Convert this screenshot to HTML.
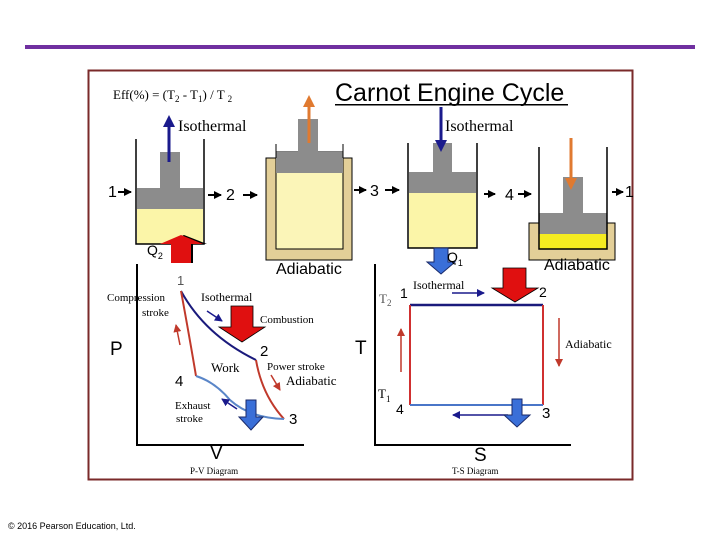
<!DOCTYPE html>
<html><head><meta charset="utf-8"><style>
html,body{margin:0;padding:0;background:#fff;}
svg{display:block;}
.ser{font-family:"Liberation Serif",serif;}
.san{font-family:"Liberation Sans",sans-serif;}
</style></head><body>
<svg width="720" height="540" viewBox="0 0 720 540" xmlns="http://www.w3.org/2000/svg">
<defs>
<marker id="ab" markerUnits="userSpaceOnUse" markerWidth="8" markerHeight="8" refX="7" refY="4" orient="auto"><path d="M0,0 L8,4 L0,8z" fill="#1a1a8c"/></marker>
<marker id="ar" markerUnits="userSpaceOnUse" markerWidth="8" markerHeight="8" refX="7" refY="4" orient="auto"><path d="M0,0 L8,4 L0,8z" fill="#c0392b"/></marker>
<marker id="ak" markerUnits="userSpaceOnUse" markerWidth="8" markerHeight="8" refX="7" refY="4" orient="auto"><path d="M0,0 L8,4 L0,8z" fill="#000"/></marker>
</defs>
<rect x="25" y="45" width="670" height="4" fill="#7030a0"/>
<rect x="88.5" y="70.5" width="544" height="409" fill="#fff" stroke="#7a2a2a" stroke-width="2"/>

<text x="113" y="99" class="ser" font-size="13">Eff(%) = (T<tspan font-size="9" dy="3">2</tspan><tspan dy="-3"> - T</tspan><tspan font-size="9" dy="3">1</tspan><tspan dy="-3">) / T </tspan><tspan font-size="9" dy="3">2</tspan></text>
<text x="335" y="101" class="san" font-size="25">Carnot Engine Cycle</text>
<rect x="335" y="104" width="233" height="1.5" fill="#000"/>

<!-- cylinder 1 -->
<rect x="137" y="209" width="66" height="35" fill="#fbf5a8"/>
<rect x="137" y="188" width="66" height="21" fill="#8c8c8c"/>
<rect x="160" y="152" width="20" height="36" fill="#8c8c8c"/>
<path d="M136,139 V244 H204 V139" fill="none" stroke="#000" stroke-width="1.5"/>
<line x1="169" y1="162" x2="169" y2="125" stroke="#1a1a8c" stroke-width="3"/>
<path d="M163,127 L169,115 L175,127z" fill="#1a1a8c"/>
<text x="178" y="131" class="ser" font-size="16">Isothermal</text>

<!-- cylinder 2 -->
<rect x="266" y="158" width="86" height="102" fill="#e3cf98" stroke="#000" stroke-width="1"/>
<rect x="276" y="152" width="67" height="97" fill="#fbf5b8" stroke="#000" stroke-width="1"/>
<rect x="276" y="152" width="67" height="21" fill="#8c8c8c"/>
<rect x="298" y="119" width="20" height="33" fill="#8c8c8c"/>
<line x1="276" y1="144" x2="276" y2="158" stroke="#000"/><line x1="343" y1="144" x2="343" y2="158" stroke="#000"/>
<line x1="309" y1="143" x2="309" y2="105" stroke="#e07a30" stroke-width="3"/>
<path d="M303,107 L309,95 L315,107z" fill="#e07a30"/>

<!-- cylinder 3 -->
<rect x="409" y="193" width="67" height="55" fill="#fbf5a8"/>
<rect x="409" y="172" width="67" height="21" fill="#8c8c8c"/>
<rect x="433" y="143" width="19" height="29" fill="#8c8c8c"/>
<path d="M408,143 V248 H477 V143" fill="none" stroke="#000" stroke-width="1.5"/>
<line x1="441" y1="107" x2="441" y2="142" stroke="#1a1a8c" stroke-width="3"/>
<path d="M435,140 L441,152 L447,140z" fill="#1a1a8c"/>
<text x="445" y="131" class="ser" font-size="16">Isothermal</text>

<!-- cylinder 4 -->
<rect x="529" y="223" width="86" height="37" fill="#e3cf98" stroke="#000" stroke-width="1"/>
<rect x="539" y="213" width="68" height="36" fill="#fff"/>
<rect x="539" y="234" width="68" height="15" fill="#f5ec20"/>
<rect x="539" y="213" width="68" height="21" fill="#8c8c8c"/>
<rect x="563" y="177" width="20" height="36" fill="#8c8c8c"/>
<path d="M539,147 V249 H607 V147" fill="none" stroke="#000" stroke-width="1.5"/>
<line x1="571" y1="138" x2="571" y2="180" stroke="#e07a30" stroke-width="3"/>
<path d="M565,178 L571,190 L577,178z" fill="#e07a30"/>

<!-- step labels -->
<g class="san" font-size="16">
<text x="108" y="197">1</text><line x1="118" y1="192" x2="131" y2="192" stroke="#000" stroke-width="2" marker-end="url(#ak)"/>
<line x1="208" y1="195" x2="221" y2="195" stroke="#000" stroke-width="2" marker-end="url(#ak)"/><text x="226" y="200">2</text><line x1="243" y1="195" x2="257" y2="195" stroke="#000" stroke-width="2" marker-end="url(#ak)"/>
<line x1="354" y1="190" x2="366" y2="190" stroke="#000" stroke-width="2" marker-end="url(#ak)"/><text x="370" y="196">3</text><line x1="385" y1="190" x2="399" y2="190" stroke="#000" stroke-width="2" marker-end="url(#ak)"/>
<line x1="484" y1="194" x2="495" y2="194" stroke="#000" stroke-width="2" marker-end="url(#ak)"/><text x="505" y="200">4</text><line x1="518" y1="194" x2="531" y2="194" stroke="#000" stroke-width="2" marker-end="url(#ak)"/>
<line x1="612" y1="192" x2="623" y2="192" stroke="#000" stroke-width="2" marker-end="url(#ak)"/><text x="625" y="197">1</text>
<text x="276" y="274">Adiabatic</text>
<text x="544" y="270">Adiabatic</text>
</g>

<!-- Q2 red arrow -->
<path d="M173,263 V244 H162 L184,235 L207,244 H193 V263z" fill="#000"/>
<path d="M171,263 V244 H160 L181,235 L203,244 H191 V263z" fill="#e01010"/>
<text x="147" y="255" class="san" font-size="14">Q<tspan font-size="9" dy="4">2</tspan></text>

<!-- Q1 blue arrow -->
<path d="M434,248 V262 H427 L441,274 L455,262 H448 V248z" fill="#3a6fd8" stroke="#1a2a6a"/>
<text x="447" y="262" class="san" font-size="14">Q<tspan font-size="9" dy="4">1</tspan></text>

<!-- PV diagram -->
<path d="M137,264 V445 H304" fill="none" stroke="#000" stroke-width="2"/>
<text x="110" y="355" class="san" font-size="19">P</text>
<text x="210" y="459" class="san" font-size="19">V</text>
<text x="190" y="474" class="ser" font-size="9">P-V Diagram</text>
<text x="177" y="285" class="san" font-size="13" fill="#555">1</text>
<path d="M181,291 Q205,335 256,360" fill="none" stroke="#1a1a7c" stroke-width="2"/>
<path d="M181,291 Q190,340 196,376" fill="none" stroke="#c0392b" stroke-width="2"/>
<path d="M256,360 Q262,395 284,419" fill="none" stroke="#c0392b" stroke-width="2"/>
<path d="M196,376 Q215,382 230,400 Q250,418 284,419" fill="none" stroke="#5a86c8" stroke-width="2"/>
<text x="260" y="356" class="san" font-size="15">2</text>
<text x="175" y="386" class="san" font-size="15">4</text>
<text x="289" y="424" class="san" font-size="15">3</text>
<text x="107" y="301" class="ser" font-size="11">Compression</text>
<text x="142" y="316" class="ser" font-size="11">stroke</text>
<text x="201" y="301" class="ser" font-size="12">Isothermal</text>
<text x="260" y="323" class="ser" font-size="11">Combustion</text>
<text x="211" y="372" class="ser" font-size="13">Work</text>
<text x="267" y="370" class="ser" font-size="11">Power stroke</text>
<text x="286" y="385" class="ser" font-size="13">Adiabatic</text>
<text x="175" y="409" class="ser" font-size="11">Exhaust</text>
<text x="176" y="422" class="ser" font-size="11">stroke</text>
<line x1="207" y1="311" x2="222" y2="321" stroke="#1a1a8c" stroke-width="1.5" marker-end="url(#ab)"/>
<line x1="180" y1="345" x2="176" y2="325" stroke="#c0392b" stroke-width="1.5" marker-end="url(#ar)"/>
<line x1="271" y1="375" x2="280" y2="390" stroke="#c0392b" stroke-width="1.5" marker-end="url(#ar)"/>
<line x1="237" y1="409" x2="222" y2="399" stroke="#1a1a8c" stroke-width="1.5" marker-end="url(#ab)"/>
<path d="M231,306 H253 V327 H265 L242,342 L219,327 H231z" fill="#e01010" stroke="#000" stroke-width="0.8"/>
<path d="M246,400 H256 V417 H263 L251,430 L239,417 H246z" fill="#3a6fd8" stroke="#1a2a6a"/>

<!-- TS diagram -->
<path d="M375,264 V445 H571" fill="none" stroke="#000" stroke-width="2"/>
<text x="355" y="354" class="san" font-size="19">T</text>
<text x="474" y="461" class="san" font-size="19">S</text>
<text x="452" y="474" class="ser" font-size="9">T-S Diagram</text>
<line x1="410" y1="305" x2="543" y2="305" stroke="#1a1a7c" stroke-width="2.5"/>
<line x1="410" y1="305" x2="410" y2="405" stroke="#d03030" stroke-width="2"/>
<line x1="543" y1="305" x2="543" y2="405" stroke="#d03030" stroke-width="2"/>
<line x1="410" y1="405" x2="543" y2="405" stroke="#4a76c8" stroke-width="2"/>
<text x="413" y="289" class="ser" font-size="12">Isothermal</text>
<text x="379" y="303" class="ser" font-size="13" fill="#555">T<tspan font-size="9" dy="3">2</tspan></text>
<text x="400" y="298" class="san" font-size="14">1</text>
<text x="539" y="297" class="san" font-size="14">2</text>
<text x="378" y="398" class="ser" font-size="13">T<tspan font-size="9" dy="4">1</tspan></text>
<text x="396" y="414" class="san" font-size="14">4</text>
<text x="542" y="418" class="san" font-size="15">3</text>
<text x="565" y="348" class="ser" font-size="12">Adiabatic</text>
<line x1="452" y1="293" x2="484" y2="293" stroke="#1a1a8c" stroke-width="1.5" marker-end="url(#ab)"/>
<line x1="401" y1="372" x2="401" y2="329" stroke="#c0392b" stroke-width="1.5" marker-end="url(#ar)"/>
<line x1="559" y1="318" x2="559" y2="366" stroke="#c0392b" stroke-width="1.5" marker-end="url(#ar)"/>
<line x1="508" y1="415" x2="453" y2="415" stroke="#1a1a8c" stroke-width="1.5" marker-end="url(#ab)"/>
<path d="M503,268 H526 V288 H538 L515,302 L492,288 H503z" fill="#e01010" stroke="#000" stroke-width="0.8"/>
<path d="M512,399 H522 V415 H530 L517,427 L504,415 H512z" fill="#3a6fd8" stroke="#1a2a6a"/>

<text x="8" y="529" class="san" font-size="9">© 2016 Pearson Education, Ltd.</text>
</svg>
</body></html>
